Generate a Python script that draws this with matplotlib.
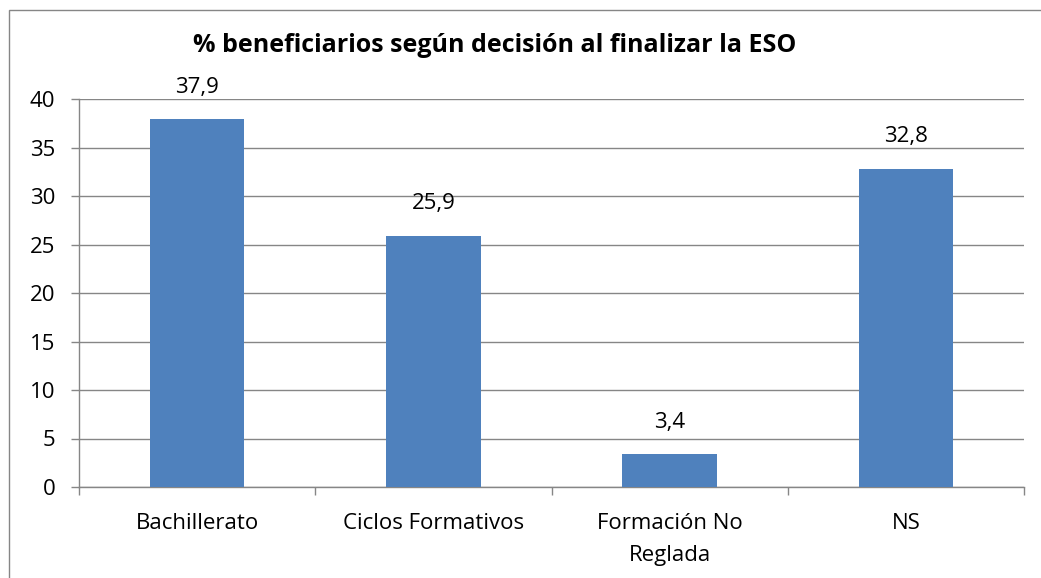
import numpy as np
import matplotlib.pyplot as plt
from matplotlib.patches import Rectangle

categorias = ["Bachillerato", "Ciclos Formativos", "Formación No\nReglada", "NS"]
valores = [37.9, 25.9, 3.4, 32.8]
etiquetas = ["37,9", "25,9", "3,4", "32,8"]

plt.rcParams['font.family'] = ['Open Sans', 'DejaVu Sans']
gris = '#868686'
azul = '#4F81BD'

fig = plt.figure(figsize=(10.41, 5.78), dpi=100)
ax = fig.add_axes([79/1041, 1 - 487/578, (1024-79)/1041, (487-99)/578])

x = np.arange(len(categorias))
ax.bar(x, valores, width=0.4, color=azul, zorder=3)

for xi, v, t in zip(x, valores, etiquetas):
    ax.annotate(t, (xi, v), xytext=(0, 19), textcoords='offset points',
                ha='center', va='baseline', fontsize=16)

ax.set_xlim(-0.5, len(categorias) - 0.5)
ax.set_ylim(0, 40)
ax.set_yticks(np.arange(0, 41, 5))
ax.set_xticks(x)
ax.set_xticklabels(categorias, fontsize=16, linespacing=1.65)
ax.set_xticks(np.arange(-0.5, len(categorias), 1), minor=True)
ax.tick_params(axis='x', which='major', length=0, pad=19)
ax.tick_params(axis='x', which='minor', length=6, color=gris, width=1)
ax.tick_params(axis='y', length=6, color=gris, width=1, pad=11, labelsize=16)

ax.yaxis.grid(True, color=gris, linewidth=1, zorder=0)
for s in ['top', 'right']:
    ax.spines[s].set_visible(False)
for s in ['left', 'bottom']:
    ax.spines[s].set_color(gris)
    ax.spines[s].set_linewidth(1)

fig.text(495/1041, 1 - 45/578, "% beneficiarios según decisión al finalizar la ESO",
         ha='center', va='center', fontsize=18, fontweight='bold')

fig.patches.append(Rectangle((9/1041, -0.1), 1.2, 1 - 10/578 + 0.1,
                             transform=fig.transFigure, fill=False,
                             edgecolor=gris, linewidth=1))

plt.savefig('out.png')
